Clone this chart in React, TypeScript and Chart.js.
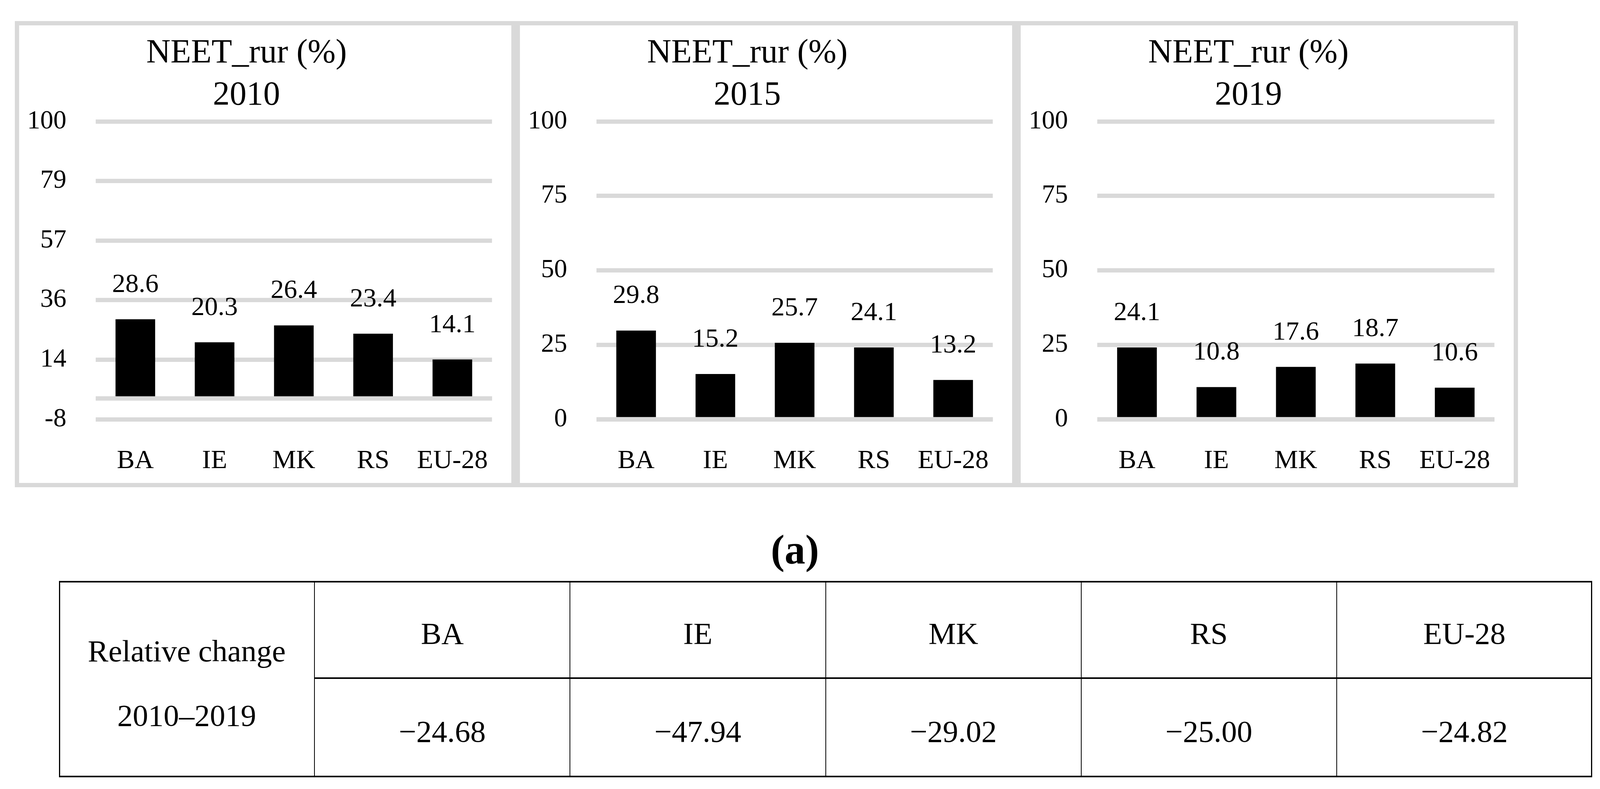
import React, { useEffect, useRef } from 'react';
import { Chart, registerables } from 'chart.js';

Chart.register(...registerables);

// ---------------- data ----------------
const categories = ['BA', 'IE', 'MK', 'RS', 'EU-28'];
const chartTitle = 'NEET_rur (%)';
const years = ['2010', '2015', '2019'];
const values2010 = [28.6, 20.3, 26.4, 23.4, 14.1];
const values2015 = [29.8, 15.2, 25.7, 24.1, 13.2];
const values2019 = [24.1, 10.8, 17.6, 18.7, 10.6];
const yTicks2010 = [-7.5, 14, 35.5, 57, 78.5, 100];
const yTickLabels2010 = ['-8', '14', '36', '57', '79', '100'];
const yTicksStd = [0, 25, 50, 75, 100];
const yTickLabelsStd = ['0', '25', '50', '75', '100'];
const panelLabel = '(a)';
const tableRowLabel = ['Relative change', '2010–2019'];
const relativeChange = [-24.68, -47.94, -29.02, -25.0, -24.82];

// ---------------- styling ----------------
const FONT = '"Liberation Serif", "Times New Roman", serif';
const GRID = '#d9d9d9';
const BORDER = 11;
const PANEL_TOP = 54;
const PANEL_H = 1194;

type PanelProps = {
  left: number;
  width: number;
  year: string;
  values: number[];
  ticks: number[];
  tickLabels: string[];
};

function Panel({ left, width, year, values, ticks, tickLabels }: PanelProps) {
  const ref = useRef<HTMLCanvasElement | null>(null);
  const cw = width - 2 * BORDER;
  const ch = PANEL_H - 2 * BORDER;

  useEffect(() => {
    if (!ref.current) return;
    const allTicks = ticks.includes(0) ? [...ticks] : [...ticks, 0];
    allTicks.sort((a, b) => a - b);

    const titlePlugin = {
      id: 'panelTitle',
      afterDraw(chart: any) {
        const ctx = chart.ctx;
        ctx.save();
        ctx.fillStyle = '#000';
        ctx.textAlign = 'center';
        ctx.textBaseline = 'middle';
        ctx.font = `86px ${FONT}`;
        const x = chart.width * 0.462;
        ctx.fillText(chartTitle, x, 72);
        ctx.fillText(year, x, 180);
        ctx.restore();
      },
    };

    const zeroAndLabels = {
      id: 'zeroAndLabels',
      afterDatasetsDraw(chart: any) {
        const ctx = chart.ctx;
        const area = chart.chartArea;
        const y0 = chart.scales.y.getPixelForValue(0);
        ctx.save();
        ctx.strokeStyle = GRID;
        ctx.lineWidth = 11;
        ctx.beginPath();
        ctx.moveTo(area.left, y0);
        ctx.lineTo(area.right, y0);
        ctx.stroke();
        ctx.fillStyle = '#000';
        ctx.textAlign = 'center';
        ctx.textBaseline = 'middle';
        ctx.font = `68px ${FONT}`;
        const meta = chart.getDatasetMeta(0);
        meta.data.forEach((bar: any, i: number) => {
          ctx.fillText(values[i].toFixed(1), bar.x, bar.y - 88);
        });
        ctx.restore();
      },
    };

    const chart = new Chart(ref.current, {
      type: 'bar',
      data: {
        labels: categories,
        datasets: [
          {
            data: values,
            backgroundColor: '#000',
            borderWidth: 0,
            barPercentage: 0.5,
            categoryPercentage: 1,
          },
        ],
      },
      options: {
        responsive: false,
        animation: false,
        devicePixelRatio: 1,
        layout: { padding: { top: 246, right: 23, left: 0, bottom: 0 } },
        plugins: {
          legend: { display: false },
          tooltip: { enabled: false },
          title: { display: false },
        },
        scales: {
          x: {
            grid: { display: false },
            border: { display: false },
            ticks: {
              color: '#000',
              font: { family: FONT, size: 68 },
              padding: 58,
              maxRotation: 0,
              autoSkip: false,
            },
            afterFit: (s: any) => {
              s.height = 163;
            },
          },
          y: {
            min: ticks[0],
            max: ticks[ticks.length - 1],
            grid: { color: GRID, lineWidth: 11, drawTicks: false },
            border: { display: false },
            ticks: {
              color: '#000',
              font: { family: FONT, size: 67 },
              padding: 75,
              callback: (v: any) => {
                const i = ticks.indexOf(Number(v));
                return i >= 0 ? tickLabels[i] : '';
              },
            },
            afterBuildTicks: (s: any) => {
              s.ticks = allTicks.map((v) => ({ value: v }));
            },
            afterFit: (s: any) => {
              s.width = 196;
            },
          },
        },
      } as any,
      plugins: [titlePlugin, zeroAndLabels],
    });
    return () => chart.destroy();
  }, []);

  return (
    <div
      style={{
        position: 'absolute',
        left,
        top: PANEL_TOP,
        width,
        height: PANEL_H,
        boxSizing: 'border-box',
        border: `${BORDER}px solid ${GRID}`,
        background: '#fff',
      }}
    >
      <canvas ref={ref} width={cw} height={ch} style={{ display: 'block', width: cw, height: ch }} />
    </div>
  );
}

function Table() {
  const L = 151;
  const R = 4076;
  const T = 1488;
  const B = 1991;
  const MID = 1735;
  const colW = (R - L) / 6;
  const els: React.ReactNode[] = [];
  const line = (key: string, x: number, y: number, w: number, h: number) =>
    els.push(<div key={key} style={{ position: 'absolute', left: x, top: y, width: w, height: h, background: '#000' }} />);
  line('top', L, T, R - L, 4);
  line('bot', L, B - 4, R - L, 4);
  line('mid', L + colW, MID, R - L - colW, 4);
  line('vl', L, T, 3, B - T);
  line('vr', R - 3, T, 3, B - T);
  for (let i = 1; i < 6; i++) line('v' + i, L + colW * i - 1, T, 2, B - T);

  const text = (key: string, s: string, cx: number, cy: number, size: number, bold = false) =>
    els.push(
      <div
        key={key}
        style={{
          position: 'absolute',
          left: cx - 400,
          width: 800,
          top: cy - 70,
          height: 140,
          lineHeight: '140px',
          textAlign: 'center',
          fontFamily: FONT,
          fontSize: size,
          fontWeight: bold ? 'bold' : 'normal',
          color: '#000',
          whiteSpace: 'nowrap',
        }}
      >
        {s}
      </div>
    );

  text('rl0', tableRowLabel[0], L + colW / 2, 1668, 79);
  text('rl1', tableRowLabel[1], L + colW / 2, 1833, 79);
  categories.forEach((c, i) => {
    const cx = L + colW * (i + 1.5);
    text('h' + i, c, cx, 1623, 79);
    const v = relativeChange[i];
    const s = (v < 0 ? '\u2212' : '') + Math.abs(v).toFixed(2);
    text('d' + i, s, cx, 1874, 79);
  });
  text('pl', panelLabel, 2035, 1408, 106, true);
  return <>{els}</>;
}

export default function App() {
  const panelValues = [values2010, values2015, values2019];
  const panelTicks = [yTicks2010, yTicksStd, yTicksStd];
  const panelTickLabels = [yTickLabels2010, yTickLabelsStd, yTickLabelsStd];
  const lefts = [38, 1320, 2602];
  const widths = [1282, 1282, 1284];
  return (
    <div style={{ position: 'absolute', left: 0, top: 0, width: 4111, height: 2021, background: '#fff', overflow: 'hidden' }}>
      {years.map((y, i) => (
        <Panel
          key={y}
          left={lefts[i]}
          width={widths[i]}
          year={y}
          values={panelValues[i]}
          ticks={panelTicks[i]}
          tickLabels={panelTickLabels[i]}
        />
      ))}
      <Table />
    </div>
  );
}
